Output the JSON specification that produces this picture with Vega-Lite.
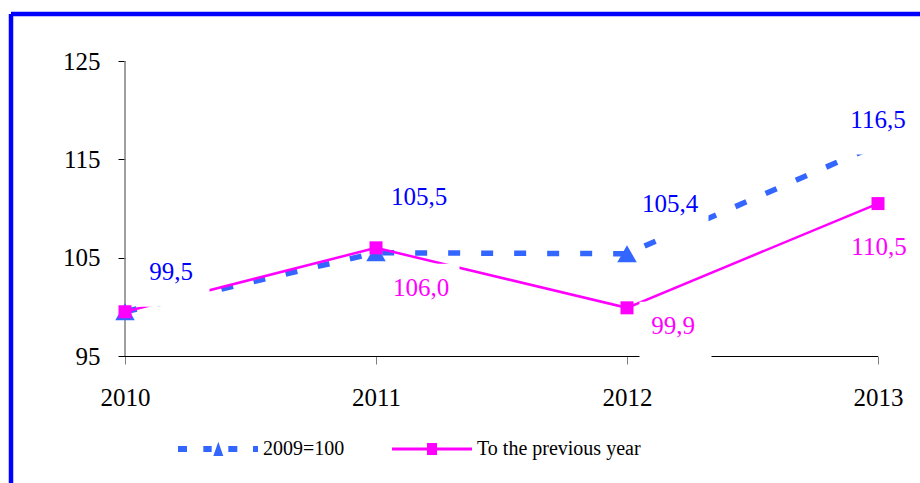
{
  "$schema": "https://vega.github.io/schema/vega-lite/v6.json",
  "autosize": "none",
  "width": 909,
  "height": 469,
  "padding": {"left": 11, "top": 14, "right": 0, "bottom": 0},
  "background": "white",
  "config": {
    "view": {"stroke": "#0000FF", "strokeWidth": 4.5, "strokeDash": [909, 1378, 469, 0]},
    "locale": {"number": {"decimal": ",", "thousands": " ", "grouping": [3], "currency": ["", ""]}},
    "font": "Liberation Serif"
  },
  "data": {
    "values": [
      {"year": 2010, "value": 99.5, "series": "2009=100"},
      {"year": 2011, "value": 105.5, "series": "2009=100"},
      {"year": 2012, "value": 105.4, "series": "2009=100"},
      {"year": 2013, "value": 116.5, "series": "2009=100"},
      {"year": 2010, "value": 99.5, "series": "To the previous year"},
      {"year": 2011, "value": 106.0, "series": "To the previous year"},
      {"year": 2012, "value": 99.9, "series": "To the previous year"},
      {"year": 2013, "value": 110.5, "series": "To the previous year"}
    ]
  },
  "encoding": {
    "x": {
      "field": "year", "type": "quantitative",
      "scale": {"domain": [2009.5458, 2013.1673], "nice": false, "zero": false},
      "axis": {"orient": "bottom", "offset": -127, "values": [2010, 2011, 2012, 2013], "format": "d", "title": null,
               "domain": false, "grid": false, "ticks": true, "tickSize": 8, "tickColor": "#808080", "tickWidth": 1,
               "labelFont": "Liberation Serif", "labelFontSize": 25, "labelColor": "#000000", "labelPadding": 21,
               "labelFlush": false, "labelOverlap": false}
    },
    "y": {
      "field": "value", "type": "quantitative",
      "scale": {"domain": [82.085, 129.78], "nice": false, "zero": false},
      "axis": {"orient": "left", "offset": -114, "values": [95, 105, 115, 125], "title": null,
               "domain": false, "grid": false, "ticks": true, "tickSize": 7, "tickColor": "#000000", "tickWidth": 1,
               "labelFont": "Liberation Serif", "labelFontSize": 25, "labelColor": "#000000", "labelPadding": 18,
               "labelFlush": false, "labelOverlap": false}
    }
  },
  "layer": [
    {
      "transform": [{"filter": "datum.series == '2009=100' && datum.year == 2010"}],
      "mark": {"type": "rule", "color": "#808080", "strokeWidth": 1.5},
      "encoding": {
        "x": {"datum": 2010, "type": "quantitative"},
        "y": {"datum": 95, "type": "quantitative"},
        "y2": {"datum": 125}
      }
    },
    {
      "transform": [{"filter": "datum.series == '2009=100' && datum.year == 2010"}],
      "mark": {"type": "rule", "color": "#000000", "strokeWidth": 1, "yOffset": 0.5},
      "encoding": {
        "x": {"datum": 2010, "type": "quantitative"},
        "x2": {"datum": 2013},
        "y": {"datum": 95, "type": "quantitative"}
      }
    },
    {
      "transform": [{"filter": "datum.series == '2009=100'"}],
      "mark": {"type": "line", "color": "#3366FF", "strokeWidth": 5.5, "strokeDash": [12, 21], "strokeCap": "butt"}
    },
    {
      "transform": [{"filter": "datum.series == 'To the previous year'"}],
      "mark": {"type": "line", "color": "#FF00FF", "strokeWidth": 2.5}
    },
    {
      "transform": [{"filter": "datum.series == '2009=100'"}],
      "mark": {"type": "point", "shape": "triangle-up", "size": 380, "filled": true, "color": "#3366FF", "opacity": 1}
    },
    {
      "transform": [{"filter": "datum.series == 'To the previous year'"}],
      "mark": {"type": "point", "shape": "square", "size": 169, "filled": true, "color": "#FF00FF", "opacity": 1}
    },
    {
      "transform": [{"filter": "!(datum.series == 'To the previous year' && datum.year == 2010)"}],
      "mark": {
        "type": "point", "shape": "M-0.931,-0.639H1.069V1H-0.931Z", "size": 5184, "filled": true,
        "fill": "#FFFFFF", "strokeWidth": 0, "opacity": 1,
        "xOffset": {"expr": "datum.series == '2009=100' ? (datum.year == 2010 ? 46 : datum.year == 2013 ? 0 : 43) : (datum.year == 2013 ? 1 : datum.year == 2012 ? 46 : 45)"},
        "yOffset": {"expr": "datum.series == '2009=100' ? (datum.year == 2010 ? -41 : datum.year == 2011 ? -57 : datum.year == 2012 ? -51 : -26) : (datum.year == 2011 ? 39 : datum.year == 2012 ? 17 : 42)"}
      }
    },
    {
      "transform": [{"filter": "!(datum.series == 'To the previous year' && datum.year == 2010)"}],
      "mark": {
        "type": "text", "font": "Liberation Serif", "fontSize": 25, "align": "center", "baseline": "middle",
        "color": {"expr": "datum.series == '2009=100' ? '#0000FF' : '#FF00FF'"},
        "xOffset": {"expr": "datum.series == '2009=100' ? (datum.year == 2010 ? 46 : datum.year == 2013 ? 0 : 43) : (datum.year == 2013 ? 1 : datum.year == 2012 ? 46 : 45)"},
        "yOffset": {"expr": "datum.series == '2009=100' ? (datum.year == 2010 ? -40 : datum.year == 2011 ? -56 : datum.year == 2012 ? -50 : -25) : (datum.year == 2011 ? 40 : datum.year == 2012 ? 18 : 43)"}
      },
      "encoding": {"text": {"field": "value", "type": "quantitative", "format": ".1f"}}
    },
    {
      "mark": {"type": "point", "filled": true, "opacity": 0},
      "encoding": {
        "color": {
          "field": "series", "type": "nominal",
          "scale": {"domain": ["2009=100", "To the previous year"], "range": ["#3366FF", "#FF00FF"]},
          "legend": {
            "title": null, "orient": "none", "legendX": 167, "legendY": 395, "direction": "horizontal",
            "symbolSize": 6400, "symbolOpacity": 1, "symbolStrokeWidth": 0,
            "labelFont": "Liberation Serif", "labelFontSize": 20, "labelColor": "#000000", "labelOffset": 5,
            "columnPadding": 47, "padding": 0, "labelLimit": 400
          }
        },
        "shape": {
          "field": "series", "type": "nominal",
          "scale": {"domain": ["2009=100", "To the previous year"], "range": [
            "M-1,-0.075H-0.775V0.075H-1Z M-0.367,-0.075H-0.158V0.075H-0.367Z M0.008,-0.18L0.133,0.175H-0.117Z M0.258,-0.075H0.483V0.075H0.258Z M0.875,-0.075H1V0.075H0.875Z",
            "M-1,-0.0375H1V0.0375H-1Z M-0.125,-0.15H0.125V0.15H-0.125Z"
          ]},
          "legend": {
            "title": null, "orient": "none", "legendX": 167, "legendY": 395, "direction": "horizontal",
            "symbolSize": 6400, "symbolOpacity": 1, "symbolStrokeWidth": 0,
            "labelFont": "Liberation Serif", "labelFontSize": 20, "labelColor": "#000000", "labelOffset": 5,
            "columnPadding": 47, "padding": 0, "labelLimit": 400
          }
        }
      }
    }
  ]
}
